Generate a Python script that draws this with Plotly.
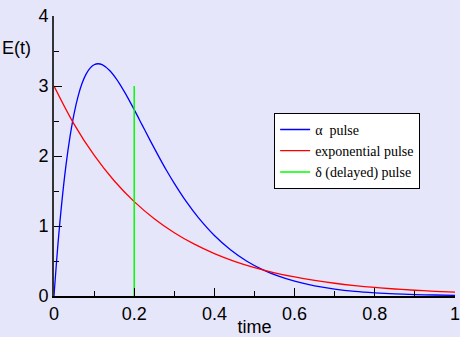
import plotly.graph_objects as go

# time samples and values
t_alpha = [0, 0.01, 0.02, 0.03, 0.04, 0.05, 0.06, 0.07, 0.08, 0.09, 0.10, 0.11, 0.12,
           0.14, 0.16, 0.18, 0.20, 0.22, 0.24, 0.26, 0.28, 0.30, 0.33, 0.36, 0.40,
           0.44, 0.48, 0.52, 0.56, 0.60, 0.65, 0.70, 0.75, 0.80, 0.85, 0.90, 0.95, 1.00]
e_alpha = [0, 0.749, 1.367, 1.873, 2.280, 2.603, 2.852, 3.038, 3.170, 3.256, 3.304, 3.318, 3.305,
           3.215, 3.064, 2.874, 2.662, 2.441, 2.220, 2.006, 1.800, 1.609, 1.347, 1.119, 0.864,
           0.661, 0.501, 0.377, 0.283, 0.211, 0.145, 0.099, 0.067, 0.046, 0.031, 0.021, 0.014, 0.009]

t_exp = [0, 0.05, 0.10, 0.15, 0.20, 0.25, 0.30, 0.35, 0.40, 0.45, 0.50,
         0.55, 0.60, 0.65, 0.70, 0.75, 0.80, 0.85, 0.90, 0.95, 1.00]
e_exp = [3.0, 2.456, 2.011, 1.646, 1.348, 1.104, 0.904, 0.740, 0.606, 0.496, 0.406,
         0.332, 0.272, 0.223, 0.182, 0.149, 0.122, 0.100, 0.082, 0.067, 0.055]

t_delta = [0.2, 0.2]
e_delta = [0, 3]

names = ["\u03b1  pulse", "exponential pulse", "\u03b4 (delayed) pulse"]
colors = ["#0000ff", "#ff0000", "#00ff00"]

fig = go.Figure()
fig.add_trace(go.Scatter(x=t_alpha, y=e_alpha, mode="lines", name=names[0],
                         line=dict(color=colors[0], width=1.3, shape="spline")))
fig.add_trace(go.Scatter(x=t_exp, y=e_exp, mode="lines", name=names[1],
                         line=dict(color=colors[1], width=1.3, shape="spline")))
fig.add_trace(go.Scatter(x=t_delta, y=e_delta, mode="lines", name=names[2],
                         line=dict(color=colors[2], width=1.5)))

bg = "#e6e6fa"
axfont = dict(family="Liberation Sans, Arial, sans-serif", size=18, color="black")

fig.update_layout(
    width=460, height=337,
    margin=dict(l=54, r=5, t=16, b=41, autoexpand=False),
    paper_bgcolor=bg, plot_bgcolor=bg,
    showlegend=True,
    legend=dict(x=0.549, y=0.654, xanchor="left", yanchor="top",
                bgcolor="white", bordercolor="black", borderwidth=1,
                font=dict(family="Liberation Serif, Times New Roman, serif", size=14, color="black"),
                itemwidth=30, tracegroupgap=0),
    xaxis=dict(range=[0, 1], tickvals=[0, 0.2, 0.4, 0.6, 0.8, 1],
               ticktext=["0", "0.2", "0.4", "0.6", "0.8", "1"],
               ticks="inside", ticklen=8, tickwidth=1, tickcolor="black",
               minor=dict(tickvals=[0.1, 0.3, 0.5, 0.7, 0.9], ticks="inside", ticklen=5, tickcolor="black"),
               showline=True, linecolor="black", linewidth=2, showgrid=False, zeroline=False,
               tickfont=axfont, ticklabeloverflow="allow", automargin=False,
               title=dict(text="time", font=axfont, standoff=2)),
    yaxis=dict(range=[0, 4], tickvals=[0, 1, 2, 3, 4],
               ticks="inside", ticklen=8, tickwidth=1, tickcolor="black",
               minor=dict(tickvals=[0.5, 1.5, 2.5, 3.5], ticks="inside", ticklen=5, tickcolor="black"),
               showline=True, linecolor="#333333", linewidth=2, showgrid=False, zeroline=False,
               tickfont=axfont, ticklabelstandoff=0, automargin=False),
    annotations=[dict(text="E(t)", xref="paper", yref="paper", x=-0.135, y=0.885,
                      xanchor="left", yanchor="middle", showarrow=False,
                      font=dict(family="Liberation Sans, Arial, sans-serif", size=18, color="black"))],
)

fig.write_html("out.html")
